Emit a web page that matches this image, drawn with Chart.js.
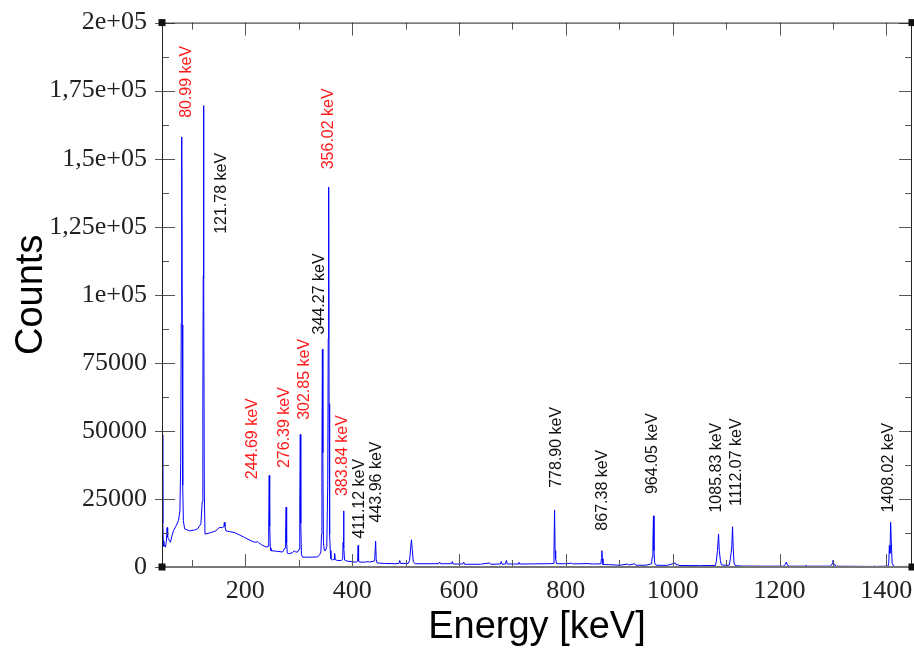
<!DOCTYPE html>
<html>
<head>
<meta charset="utf-8">
<script src="https://cdn.jsdelivr.net/npm/chart.js@4.4.1/dist/chart.umd.min.js"></script>
<style>
  html, body { margin: 0; padding: 0; background: #fff; }
  canvas { display: block; }
</style>
</head>
<body>
<canvas id="spectrum" width="914" height="652"></canvas>
<script>
// gamma spectrum: [energy keV, counts]
const spectrum = [
    [44.6, 48500], [45.2, 30000], [45.8, 16000], [46.5, 9500], [47.5, 7600], [48.6, 7900],
    [50.5, 7300], [52.0, 9000], [53.6, 14500], [54.6, 11000], [56.1, 10400], [58.0, 9600],
    [59.8, 9100], [62.0, 11000], [65.4, 13300], [70.0, 15000], [74.8, 17000], [77.5, 20500],
    [79.0, 38000], [80.0, 89600], [80.99, 158000], [81.9, 89000], [82.8, 30000], [84.0, 17000],
    [86.4, 14000], [95.7, 13300], [105.0, 13600], [110.7, 14000], [116.9, 15900], [119.3, 24000],
    [120.5, 62000], [121.2, 106800], [121.78, 169500], [122.4, 106000], [123.2, 28000], [124.5, 12100],
    [126.2, 12100], [135.0, 12600], [145.0, 13300], [151.3, 14500], [157.5, 14500], [159.8, 14800],
    [160.7, 16400], [161.8, 14900], [163.7, 13300], [170.0, 13000], [179.4, 12700], [190.0, 11700],
    [198.1, 10900], [207.0, 10000], [216.8, 9100], [221.5, 9200], [223.0, 9300], [224.5, 9000],
    [232.4, 7900], [240.4, 7300], [242.6, 7600], [243.8, 16000], [244.69, 33600], [245.6, 15000],
    [246.8, 7000], [248.0, 6000], [258.0, 5800], [269.8, 5500], [274.3, 7000], [275.4, 12000],
    [276.39, 22000], [277.3, 9000], [278.5, 5100], [280.5, 4900], [288.0, 5200], [291.7, 6000],
    [294.0, 5500], [297.9, 5500], [300.5, 6500], [301.9, 22000], [302.85, 48700], [303.8, 16000],
    [305.0, 4500], [307.3, 3600], [320.0, 3600], [335.4, 3700], [339.0, 4500], [341.5, 5500],
    [342.6, 12000], [343.4, 40000], [344.27, 80000], [345.1, 42000], [346.2, 9000], [348.0, 6000],
    [350.0, 6000], [352.5, 7500], [354.2, 30000], [355.2, 84000], [356.02, 139600], [356.8, 60000],
    [357.8, 12000], [359.0, 6000], [360.2, 3000], [363.0, 2600], [366.0, 2800], [367.2, 5000],
    [368.4, 2700], [372.0, 2400], [380.0, 2400], [382.2, 3000], [383.0, 9000], [383.84, 20600],
    [384.7, 7000], [385.8, 2600], [390.0, 2200], [400.0, 1900], [408.0, 1800], [410.2, 2100],
    [411.12, 7900], [412.0, 2300], [413.5, 1800], [425.0, 1800], [430.0, 2000], [432.0, 1800],
    [442.0, 2200], [443.96, 9500], [445.0, 2800], [446.5, 1500], [460.0, 1300], [480.0, 1200],
    [487.5, 1300], [489.0, 2400], [490.5, 1300], [505.0, 1300], [507.5, 2500], [509.5, 7000],
    [511.0, 10000], [512.5, 6500], [514.5, 1800], [518.0, 1200], [540.0, 1200], [562.0, 1200],
    [563.7, 1800], [565.5, 1200], [586.0, 1200], [587.5, 2000], [589.0, 1100], [607.0, 1100],
    [608.7, 1800], [610.5, 1000], [640.0, 1000], [657.0, 1500], [659.0, 1000], [677.5, 1100],
    [679.0, 2000], [681.0, 1000], [687.0, 1100], [688.6, 2400], [690.5, 1100], [710.5, 1100],
    [712.0, 1700], [713.5, 1100], [740.0, 1150], [770.0, 1200], [776.5, 1300], [777.8, 6000],
    [778.90, 20900], [779.9, 6000], [780.9, 3000], [782.5, 1200], [800.0, 1200], [810.3, 1400],
    [812.0, 1150], [841.4, 1250], [850.0, 1100], [865.5, 1150], [866.6, 3000], [867.38, 6000],
    [868.3, 3000], [869.5, 900], [880.0, 850], [901.0, 650], [916.0, 1100], [918.0, 700],
    [928.8, 1200], [931.0, 650], [950.0, 650], [960.5, 1200], [961.6, 3600], [963.0, 9000],
    [964.05, 18800], [965.0, 6000], [966.2, 1500], [969.0, 650], [990.0, 600], [1005.0, 1500],
    [1007.0, 700], [1009.8, 900], [1012.0, 550], [1050.0, 500], [1080.0, 550], [1081.7, 2000],
    [1083.8, 6000], [1085.83, 12100], [1087.3, 6000], [1089.3, 2400], [1091.0, 800], [1100.0, 600],
    [1106.0, 700], [1108.0, 3000], [1110.5, 7000], [1112.07, 14800], [1113.3, 7000], [1114.8, 1500],
    [1117.0, 500], [1130.0, 350], [1180.0, 300], [1208.0, 320], [1210.5, 900], [1212.8, 1800],
    [1215.0, 600], [1218.0, 300], [1248.0, 300], [1250.0, 600], [1252.0, 300], [1295.0, 300],
    [1297.0, 700], [1298.5, 1200], [1300.0, 2400], [1301.5, 1000], [1303.3, 1000], [1305.0, 300],
    [1375.5, 200], [1377.6, 400], [1379.5, 200], [1403.0, 300], [1404.5, 1200], [1405.6, 7900],
    [1406.8, 5000], [1408.02, 16400], [1409.3, 9000], [1410.8, 1500], [1412.6, 600], [1416.0, 200],
    [1448.0, 200]
];

// identified lines, labelled "<energy> keV"
const peakEnergies = [80.99, 121.78, 244.69, 276.39, 302.85, 344.27, 356.02, 383.84,
    411.12, 443.96, 778.90, 867.38, 964.05, 1085.83, 1112.07, 1408.02];
const highlightedPeaks = [80.99, 244.69, 276.39, 302.85, 356.02, 383.84];

const xTickValues = [200, 400, 600, 800, 1000, 1200, 1400];
const xTickLabels = ['200', '400', '600', '800', '1000', '1200', '1400'];
const xMinorTicks = [100, 300, 500, 700, 900, 1100, 1300];
const yTickValues = [0, 25000, 50000, 75000, 100000, 125000, 150000, 175000, 200000];
const yTickLabels = ['0', '25000', '50000', '75000', '1e+05', '1,25e+05', '1,5e+05', '1,75e+05', '2e+05'];
const yMinorTicks = [12500, 37500, 62500, 87500, 112500, 137500, 162500, 187500];

// start point (keV, counts) of each rotated peak label, same order as peakEnergies
const labelAnchors = [
    [89.5, 165000], [155.1, 122400], [214.2, 32250], [273.6, 36360], [311.0, 54070],
    [339.1, 85450], [355.9, 146100], [382.7, 26070], [414.0, 10440], [445.2, 16360],
    [782.2, 29090], [869.5, 13350], [961.9, 26800], [1081.7, 20000], [1119.2, 22440],
    [1404.9, 20000]
];

// axis frame with inward ticks on all four sides (grace style)
const framePlugin = {
    id: 'frame',
    afterDatasetsDraw(chart) {
        const { ctx, chartArea: { left, right, top, bottom }, scales: { x, y } } = chart;
        const major = 13, minor = 7;
        ctx.save();
        ctx.lineWidth = 1;
        ctx.strokeStyle = '#555';
        ctx.beginPath();
        xTickValues.concat(xMinorTicks).forEach(v => {
            const len = xTickValues.includes(v) ? major : minor;
            const px = Math.round(x.getPixelForValue(v)) + 0.5;
            ctx.moveTo(px, bottom); ctx.lineTo(px, bottom - len);
            ctx.moveTo(px, top); ctx.lineTo(px, top + len);
        });
        yTickValues.concat(yMinorTicks).forEach(v => {
            const isMajor = yTickValues.includes(v);
            const len = isMajor ? major : minor;
            const py = Math.round(y.getPixelForValue(v)) + 0.5;
            ctx.moveTo(left - (isMajor ? 7 : 0), py); ctx.lineTo(left + len, py);
            ctx.moveTo(right, py); ctx.lineTo(right - len, py);
        });
        ctx.stroke();

        ctx.strokeStyle = '#222';
        ctx.strokeRect(left + 0.5, top + 0.5, right - left - 1, bottom - top - 1);
        ctx.strokeStyle = '#777';
        ctx.lineWidth = 2;
        ctx.beginPath();
        ctx.moveTo(left, bottom); ctx.lineTo(right, bottom);
        ctx.stroke();

        ctx.fillStyle = '#111';
        [[left, top], [left, bottom], [right, bottom], [right, top]].forEach(([cx, cy]) => {
            ctx.fillRect(cx - 3.5, cy - 3.5, 7, 7);
        });
        ctx.restore();
    }
};

const peakLabelPlugin = {
    id: 'peakLabels',
    afterDatasetsDraw(chart) {
        const { ctx, scales: { x, y } } = chart;
        ctx.save();
        ctx.font = '16px "Liberation Sans", Arial, sans-serif';
        ctx.textAlign = 'left';
        ctx.textBaseline = 'middle';
        peakEnergies.forEach((e, i) => {
            const [ax, ay] = labelAnchors[i];
            ctx.save();
            ctx.translate(x.getPixelForValue(ax), y.getPixelForValue(ay));
            ctx.rotate(-Math.PI / 2);
            ctx.fillStyle = highlightedPeaks.includes(e) ? '#ff1a1a' : '#111';
            ctx.fillText(e.toFixed(2) + ' keV', 0, 0);
            ctx.restore();
        });
        ctx.restore();
    }
};

const tickFont = { family: '"Liberation Serif", "Times New Roman", serif', size: 26 };
const titleFont = { family: '"Liberation Sans", Arial, sans-serif', size: 38 };

new Chart(document.getElementById('spectrum'), {
    type: 'line',
    data: {
        datasets: [{
            data: spectrum.map(([e, c]) => ({ x: e, y: c })),
            borderColor: '#0000ff',
            borderWidth: 1,
            pointRadius: 0,
            tension: 0,
            fill: false
        }]
    },
    options: {
        responsive: false,
        animation: false,
        devicePixelRatio: 1,
        layout: { padding: { left: 0, top: 17, right: 2, bottom: 0 } },
        plugins: {
            legend: { display: false },
            tooltip: { enabled: false }
        },
        scales: {
            x: {
                type: 'linear',
                min: 44,
                max: 1448,
                afterBuildTicks: scale => { scale.ticks = xTickValues.map(v => ({ value: v })); },
                afterFit: scale => { scale.height = 85; },
                grid: { display: false },
                border: { display: false },
                ticks: {
                    font: tickFont,
                    color: '#222',
                    padding: 1,
                    maxRotation: 0,
                    autoSkip: false,
                    callback: (value, index) => xTickLabels[index]
                },
                title: {
                    display: true,
                    text: 'Energy [keV]',
                    font: titleFont,
                    color: '#000',
                    padding: { top: 0, bottom: 1.5 }
                }
            },
            y: {
                type: 'linear',
                min: 0,
                max: 200000,
                afterBuildTicks: scale => { scale.ticks = yTickValues.map(v => ({ value: v })); },
                afterFit: scale => { scale.width = 162; },
                grid: { display: false },
                border: { display: false },
                ticks: {
                    font: tickFont,
                    color: '#222',
                    padding: 7,
                    autoSkip: false,
                    callback: (value, index) => yTickLabels[index]
                },
                title: {
                    display: true,
                    text: 'Counts',
                    font: titleFont,
                    color: '#000',
                    padding: { top: 9, bottom: 0 }
                }
            }
        }
    },
    plugins: [framePlugin, peakLabelPlugin]
});
</script>
</body>
</html>
